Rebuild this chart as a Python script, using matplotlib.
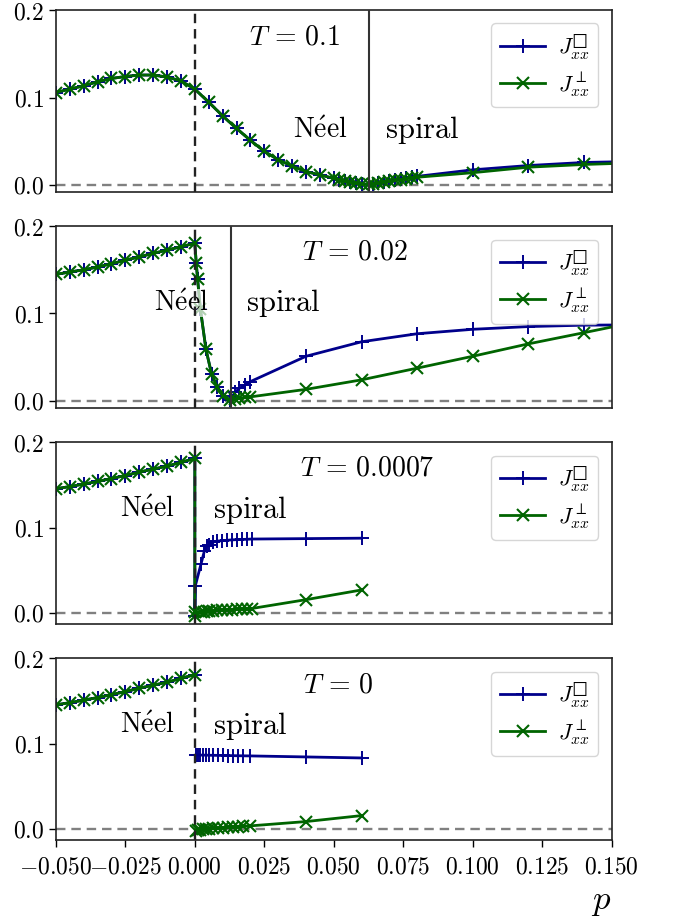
import numpy as np
import matplotlib
matplotlib.use("Agg")
import matplotlib.pyplot as plt
from matplotlib.ticker import FuncFormatter

plt.rcParams["mathtext.fontset"] = "cm"
plt.rcParams["font.family"] = ["DejaVu Serif"]

# --- T = 0.1 ---
neel_p_a = [-0.05, -0.045, -0.04, -0.035, -0.03, -0.025, -0.02, -0.015, -0.01, -0.005, 0.0,
            0.005, 0.01, 0.015, 0.02, 0.025, 0.03, 0.035, 0.04, 0.045, 0.05,
            0.052, 0.054, 0.056, 0.058, 0.060, 0.0625]
neel_j_a = [0.1057, 0.1096, 0.1134, 0.118, 0.1218, 0.124, 0.1257, 0.1257, 0.1234, 0.119, 0.1096,
            0.0946, 0.079, 0.0646, 0.051, 0.0384, 0.0288, 0.0215, 0.0153, 0.0115, 0.0075,
            0.0058, 0.0043, 0.003, 0.002, 0.0012, 0.0006]
spir_p_a = [0.064, 0.066, 0.068, 0.070, 0.072, 0.074, 0.076, 0.078, 0.080, 0.10, 0.12, 0.14, 0.16]
spir_sq_a = [0.0016, 0.0027, 0.0038, 0.0048, 0.0058, 0.0068, 0.0078, 0.0088, 0.0098, 0.0173, 0.0222, 0.0257, 0.027]
spir_pp_a = [0.0014, 0.0024, 0.0034, 0.0043, 0.0052, 0.0061, 0.007, 0.0079, 0.0088, 0.014, 0.0203, 0.0234, 0.0255]

# --- T = 0.02 ---
neel_p_b = [-0.05, -0.045, -0.04, -0.035, -0.03, -0.025, -0.02, -0.015, -0.01, -0.005, 0.0,
            0.0005, 0.001, 0.002, 0.004, 0.006, 0.008, 0.010, 0.0125]
neel_j_b = [0.1448, 0.1475, 0.150, 0.1533, 0.157, 0.161, 0.1649, 0.1688, 0.1726, 0.1765, 0.1804,
            0.158, 0.139, 0.105, 0.059, 0.031, 0.0162, 0.0058, 0.0008]
spir_p_b = [0.0145, 0.016, 0.018, 0.02, 0.04, 0.06, 0.08, 0.10, 0.12, 0.14, 0.16]
spir_sq_b = [0.0096, 0.0143, 0.018, 0.022, 0.051, 0.0676, 0.0768, 0.0819, 0.085, 0.0866, 0.087]
spir_pp_b = [0.002, 0.003, 0.004, 0.0045, 0.0131, 0.024, 0.0374, 0.051, 0.0652, 0.078, 0.091]

# --- T = 0.0007 ---
neel_p_c = [-0.05, -0.045, -0.04, -0.035, -0.03, -0.025, -0.02, -0.015, -0.01, -0.005, 0.0]
neel_j_c = [0.1455, 0.148, 0.151, 0.154, 0.1575, 0.161, 0.165, 0.1685, 0.172, 0.1765, 0.181]
spir_p_c = [0.0, 0.0002, 0.0022, 0.0034, 0.0042, 0.005, 0.0066, 0.0078, 0.0096, 0.0114,
            0.0132, 0.015, 0.0168, 0.0186, 0.0204, 0.04, 0.06]
spir_sq_c = [-0.004, 0.032, 0.057, 0.072, 0.0778, 0.080, 0.083, 0.084, 0.0845, 0.085,
             0.0855, 0.0858, 0.086, 0.0862, 0.0865, 0.087, 0.0875]
spir_pp_c = [-0.004, 0.0005, 0.001, 0.0015, 0.0018, 0.002, 0.0024, 0.0027, 0.0031, 0.0035,
             0.0038, 0.0041, 0.0044, 0.0047, 0.005, 0.0154, 0.0268]

# --- T = 0 ---
neel_p_d = [-0.05, -0.045, -0.04, -0.035, -0.03, -0.025, -0.02, -0.015, -0.01, -0.005, 0.0]
neel_j_d = [0.1455, 0.148, 0.151, 0.154, 0.1575, 0.161, 0.165, 0.1685, 0.172, 0.1765, 0.181]
spir_p_d = [0.0005, 0.0012, 0.002, 0.003, 0.004, 0.005, 0.0066, 0.0084, 0.0102, 0.012,
            0.0138, 0.0156, 0.0174, 0.0198, 0.04, 0.06]
spir_sq_d = [0.0866, 0.0866, 0.0866, 0.0865, 0.0865, 0.0864, 0.0863, 0.0862, 0.0861, 0.086,
             0.0859, 0.0858, 0.0857, 0.0856, 0.0844, 0.0832]
spir_pp_d = [-0.002, -0.0015, -0.001, -0.0005, 0.0, 0.0004, 0.0008, 0.0012, 0.0016, 0.002,
             0.0024, 0.0027, 0.003, 0.0035, 0.0086, 0.0156]

temps = ["0.1", "0.02", "0.0007", "0"]
transition = [0.0625, 0.013, None, None]
ylow = [-0.0077, -0.008, -0.013, -0.013]

panels = [
    (neel_p_a, neel_j_a, spir_p_a, spir_sq_a, spir_pp_a, True),
    (neel_p_b, neel_j_b, spir_p_b, spir_sq_b, spir_pp_b, True),
    (neel_p_c, neel_j_c, spir_p_c, spir_sq_c, spir_pp_c, True),
    (neel_p_d, neel_j_d, spir_p_d, spir_sq_d, spir_pp_d, False),
]

# label positions (data coords) for each panel
t_pos = [(0.036, 0.169), (0.0575, 0.170), (0.062, 0.170), (0.0515, 0.169)]
neel_pos = [(0.045, 0.0625), (-0.0047, 0.112), (-0.017, 0.121), (-0.017, 0.121)]
spir_pos = [(0.0817, 0.0625), (0.032, 0.112), (0.0198, 0.121), (0.0198, 0.121)]

blue = "#00008b"
green = "#006400"

fig, axes = plt.subplots(4, 1, sharex=True, figsize=(6.73, 9.16))
fig.subplots_adjust(left=0.083, right=0.909, top=0.989, bottom=0.083, hspace=0.19)

for i, ax in enumerate(axes):
    np_, nj, sp, ssq, spp, joined = panels[i]
    if joined:
        p_all = list(np_) + list(sp)
        sq_all = list(nj) + list(ssq)
        pp_all = list(nj) + list(spp)
    else:
        # no data line joining the two phases at T = 0
        p_all = list(np_) + [np.nan] + list(sp)
        sq_all = list(nj) + [np.nan] + list(ssq)
        pp_all = list(nj) + [np.nan] + list(spp)

    ax.plot(p_all, sq_all, color=blue, marker="+", ms=10, mew=1.4, lw=2,
            label="$J_{xx}^{\u25A1}$", zorder=2)
    ax.plot(p_all, pp_all, color=green, marker="x", ms=8, mew=1.5, lw=2,
            label=r"$J_{xx}^{\perp}$", zorder=2.1)

    ax.axhline(0, color="gray", ls="--", lw=1.7, dashes=(4, 2.5), zorder=1)
    ax.axvline(0, color="#222222", ls="--", lw=1.7, dashes=(4, 2.5), zorder=4)
    if transition[i] is not None:
        ax.axvline(transition[i], color="#333333", lw=1.5, zorder=4)

    ax.text(*t_pos[i], r"$T\,=\,%s$" % temps[i], fontsize=20, ha="center", va="center")
    ax.text(*neel_pos[i], r"$\mathrm{N\acute{e}el}$", fontsize=20, ha="center", va="center",
            zorder=3, bbox=dict(facecolor="white", alpha=0.7, edgecolor="none", pad=0.5))
    ax.text(*spir_pos[i], r"$\mathrm{spiral}$", fontsize=22, ha="center", va="center")

    ax.set_xlim(-0.05, 0.15)
    ax.set_ylim(ylow[i], 0.2)
    ax.set_yticks([0.0, 0.1, 0.2])
    ax.yaxis.set_major_formatter(FuncFormatter(lambda v, _: r"$%.1f$" % v))
    ax.tick_params(labelsize=17, length=5, width=1)
    for s in ax.spines.values():
        s.set_linewidth(1.2)
        s.set_color("#222222")

    ax.legend(loc="upper right", fontsize=16, handlelength=2.0, handletextpad=0.6,
              labelspacing=0.35, borderaxespad=0.6)
    if i < 3:
        ax.tick_params(axis="x", bottom=False)

axes[-1].set_xticks(np.arange(-0.05, 0.1501, 0.025))
axes[-1].xaxis.set_major_formatter(
    FuncFormatter(lambda v, _: r"$%.3f$" % (0.0 if abs(v) < 1e-9 else v)))
axes[-1].tick_params(axis="x", pad=6)
axes[-1].set_xlabel(r"$p$", fontsize=25, loc="right", labelpad=4)

plt.savefig("out.png", dpi=100)
